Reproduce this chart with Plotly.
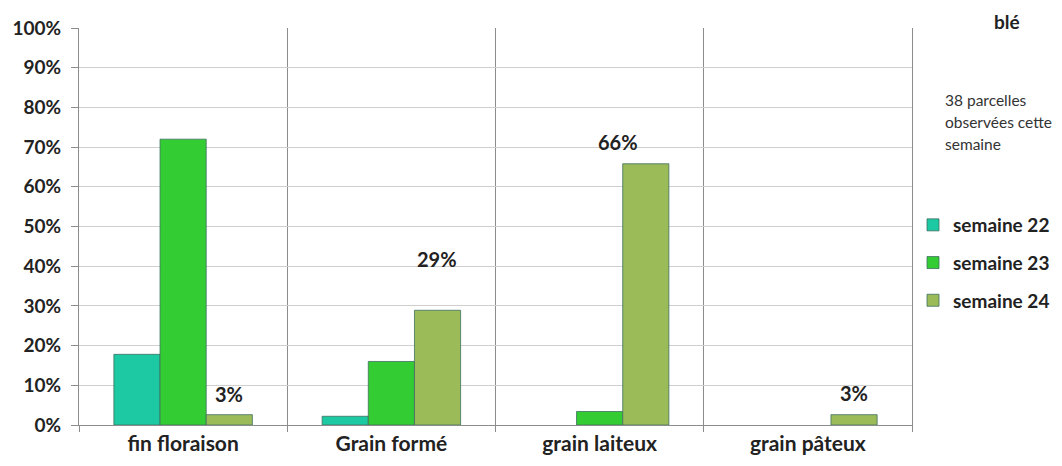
import plotly.graph_objects as go

categories = ["fin floraison", "Grain formé", "grain laiteux", "grain pâteux"]
series_names = ["semaine 22", "semaine 23", "semaine 24"]
semaine_22 = [17.8, 2.2, None, None]
semaine_23 = [72.0, 16.0, 3.4, None]
semaine_24 = [2.6, 28.9, 65.8, 2.6]
labels_24 = ["3%", "29%", "66%", "3%"]
y_ticks = [0, 10, 20, 30, 40, 50, 60, 70, 80, 90, 100]
y_tick_labels = [f"{v}%" for v in y_ticks]
note_lines = ["38 parcelles", "observées cette", "semaine"]
corner_label = "blé"

colors = ["#1CC9A3", "#33CC33", "#9BBB59"]
FONT = "Lato, 'Open Sans', sans-serif"

# page body has an 8px margin: work in target-pixel coordinates, then convert
OFF = 8
W, H = 1062 - OFF, 466 - OFF
L, T = 79 - OFF, 28 - OFF
pw, ph = 912 - 79, 425 - 28
R, B = W - L - pw, H - T - ph


def px_x(x):
    return (x - OFF - L) / pw


def px_y(y):
    return 1 - (y - OFF - T) / ph


fig = go.Figure()
for i, (name, vals) in enumerate(zip(series_names, [semaine_22, semaine_23, semaine_24])):
    fig.add_trace(go.Bar(
        x=categories, y=vals, name=name,
        marker=dict(color=colors[i], line=dict(color="#3f6f5f", width=0.8)),
        legendgroup=name,
        hoverinfo="skip",
    ))

# data labels for semaine 24
label_shifts = [(0, 21), (0, 51), (-27, 22), (0, 22)]
for k, (lab, val) in enumerate(zip(labels_24, semaine_24)):
    dx, dy = label_shifts[k]
    fig.add_annotation(x=k + 0.22, y=val, xref="x", yref="y", text=lab,
                       showarrow=False, xshift=dx, yshift=dy,
                       font=dict(family=FONT, size=20, color="#222", weight="bold"))

for j, line in enumerate(note_lines):
    fig.add_annotation(x=px_x(943), y=px_y(100 + 22 * j), xref="paper", yref="paper", text=line,
                       showarrow=False, xanchor="left", yanchor="middle",
                       font=dict(family=FONT, size=15.5, color="#333"))

fig.add_annotation(x=px_x(1007), y=px_y(8), xref="paper", yref="paper", text=corner_label,
                   showarrow=False, xanchor="center", yanchor="top",
                   font=dict(family=FONT, size=19, color="#222", weight="bold"))

fig.update_layout(
    width=W, height=H,
    margin=dict(l=L, r=R, t=T, b=B, pad=0, autoexpand=False),
    paper_bgcolor="white", plot_bgcolor="white",
    barmode="group", bargap=0.335, bargroupgap=0,
    font=dict(family=FONT, color="#222"),
    showlegend=True,
    legend=dict(x=px_x(913), y=px_y(206), xanchor="left", yanchor="top",
                font=dict(family=FONT, size=19, color="#222", weight="bold"),
                tracegroupgap=10, bgcolor="rgba(0,0,0,0)", itemclick=False,
                itemwidth=30),
)
fig.update_xaxes(
    type="category", tickson="boundaries", showgrid=True, gridcolor="#8c8c8c", gridwidth=1,
    showline=True, linecolor="#8c8c8c", linewidth=1, ticks="outside", ticklen=6,
    tickcolor="#8c8c8c", range=[-0.5, 3.5], automargin=False,
    tickfont=dict(family=FONT, size=21, color="#222", weight="bold"),
)
fig.update_yaxes(
    range=[0, 100], tickvals=y_ticks, ticktext=y_tick_labels, showgrid=True,
    gridcolor="#cfcfcf", gridwidth=1, showline=True, linecolor="#8c8c8c", linewidth=1,
    mirror=True, ticks="outside", ticklen=7, tickcolor="#8c8c8c", zeroline=False,
    automargin=False, ticklabelstandoff=6,
    tickfont=dict(family=FONT, size=19, color="#222", weight="bold"),
)

fig.write_html("out.html", config={"displayModeBar": False})
